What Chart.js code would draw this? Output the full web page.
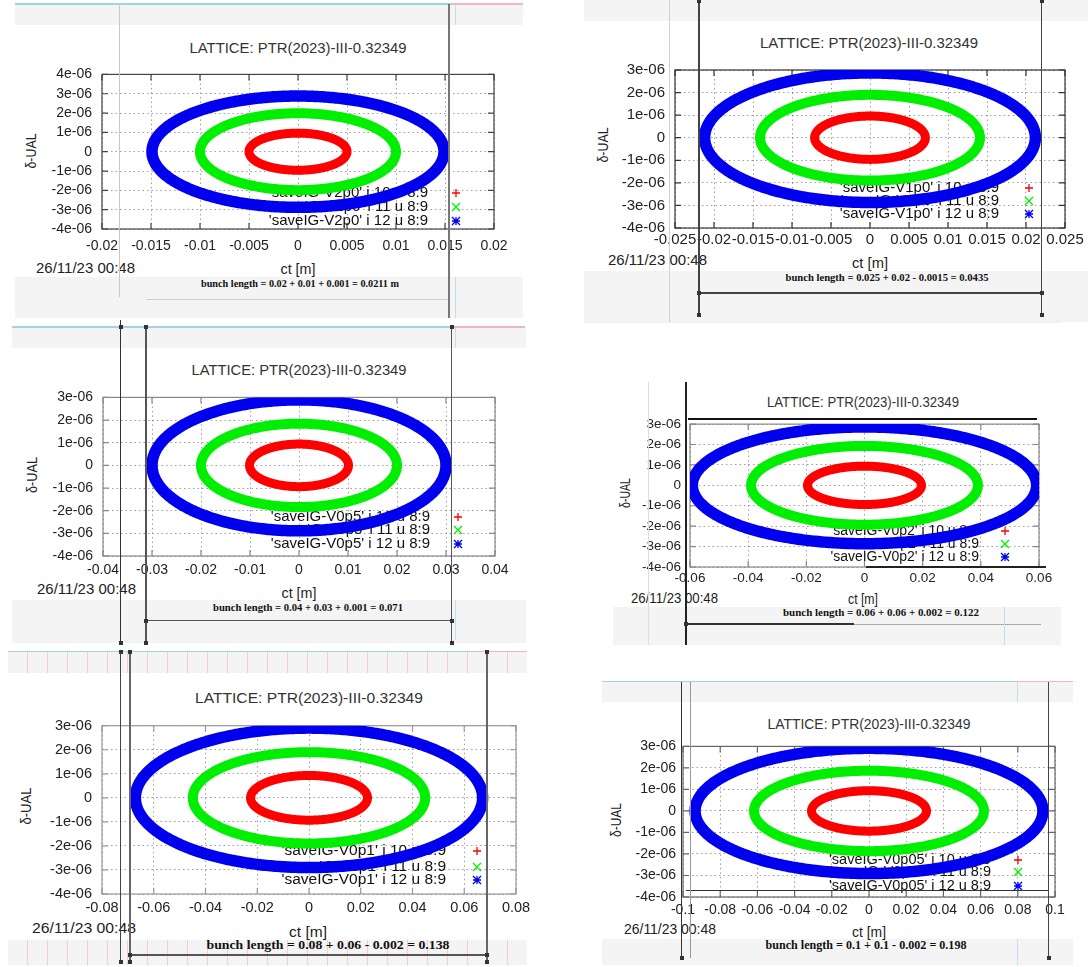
<!DOCTYPE html>
<html>
<head>
<meta charset="utf-8">
<title>LATTICE: PTR(2023)-III-0.32349</title>
<script src="https://cdn.jsdelivr.net/npm/chart.js@4.4.1/dist/chart.umd.min.js"></script>
<style>
  html, body { margin: 0; padding: 0; width: 1088px; height: 967px; overflow: hidden; background: #fff; }
  #stage { position: absolute; left: 0; top: 0; width: 1088px; height: 967px; overflow: hidden; }
  .band, .rule, .dot { position: absolute; }
  .txt { position: absolute; white-space: nowrap; line-height: 1; color: #222;
         font-family: "Liberation Sans", Arial, sans-serif; }
  canvas.plot { position: absolute; z-index: 2; }
  .rule, .dot { z-index: 3; }
</style>
</head>
<body>
<div id="stage"></div>
<script>
// ---- runs (one gnuplot screen per voltage setting) ----
const runNames   = ['V2p0', 'V1p0', 'V0p5', 'V0p2', 'V0p1', 'V0p05'];
const ctLimit    = [0.02, 0.025, 0.04, 0.06, 0.08, 0.1];      // ct axis half range [m]
const ctStep     = [0.005, 0.005, 0.01, 0.02, 0.02, 0.02];    // ct tick spacing
const deltaMin   = [-4e-6, -4e-6, -4e-6, -4e-6, -4e-6, -4e-6];
const deltaMax   = [4e-6, 3e-6, 3e-6, 3e-6, 3e-6, 3e-6];
const deltaStep  = 1e-6;

// semi-axes of the phase-space orbits: index 10 (red), 11 (green), 12 (blue)
const ct10    = [0.0050, 0.0071, 0.0101, 0.0196, 0.0226, 0.0309];
const delta10 = [0.96e-6, 0.96e-6, 0.94e-6, 0.94e-6, 0.93e-6, 0.94e-6];
const ct11    = [0.0100, 0.0141, 0.0200, 0.0390, 0.0449, 0.0618];
const delta11 = [1.99e-6, 1.90e-6, 1.84e-6, 1.93e-6, 1.90e-6, 1.87e-6];
const ct12    = [0.0149, 0.0212, 0.0300, 0.0592, 0.0671, 0.0935];
const delta12 = [2.88e-6, 2.87e-6, 2.89e-6, 2.86e-6, 2.90e-6, 2.91e-6];

const bunchNotes = [
  'bunch length = 0.02 + 0.01 + 0.001 = 0.0211 m',
  'bunch length = 0.025 + 0.02 - 0.0015 = 0.0435',
  'bunch length = 0.04 + 0.03 + 0.001 = 0.071',
  'bunch length = 0.06 + 0.06 + 0.002 = 0.122',
  'bunch length = 0.08 + 0.06 - 0.002 = 0.138',
  'bunch length = 0.1 + 0.1 - 0.002 = 0.198'
];
const plotTitle = 'LATTICE: PTR(2023)-III-0.32349';
const stampText = '26/11/23 00:48';
const xTitle = 'ct [m]';
const yTitle = 'δ-UAL';

// ---- screen layout (plot box = l, t, r, b in page pixels) ----
const frames = [
  { box: [102, 68, 494, 229], tick: 14, padX: 9, padY: 10, frame: '#444',
    key: { end: 66, sym: 38, rows: [36, 22, 8], size: 15 },
    title: [298, 47, 217], stamp: [36, 267, 99], xlab: [298, 268, 35], ylab: [30, 151, 35], bunch: [300, 284, 198, 10.5] },
  { box: [675, 63, 1065, 228], tick: 15, padX: 3, padY: 10, frame: '#333',
    key: { end: 66, sym: 36, rows: [40, 27, 14], size: 15 },
    title: [869, 42, 218], stamp: [608, 259, 99], xlab: [870, 262, 36], ylab: [602, 145, 35], bunch: [887, 278, 203, 10.5] },
  { box: [103, 391, 495, 556], tick: 14, padX: 5.5, padY: 10, frame: '#888',
    key: { end: 65, sym: 37, rows: [39, 26, 12], size: 15 },
    title: [299, 369, 215], stamp: [37, 588, 99], xlab: [299, 592, 35], ylab: [31, 475, 36], bunch: [308, 608, 190, 10.5] },
  { box: [690, 419, 1039, 567], tick: 13.5, padX: 3, padY: 9, frame: '#888',
    key: { end: 60, sym: 34, rows: [36, 23, 10], size: 14 },
    title: [863, 401, 192], stamp: [631, 597, 87], xlab: [863, 598, 30], ylab: [624, 493, 30], bunch: [881, 613, 196, 10.5] },
  { box: [102, 719, 516, 894], tick: 14.5, padX: 5.5, padY: 10, frame: '#999',
    key: { end: 70, sym: 39, rows: [43, 27, 14], size: 15.5 },
    title: [309, 697, 228], stamp: [32, 927, 104], xlab: [308, 931, 38], ylab: [25, 806, 37], bunch: [328, 945, 243, 12.5] },
  { box: [683, 743, 1055, 897], tick: 14, padX: 5, padY: 7, frame: '#666',
    key: { end: 64, sym: 37, rows: [37, 25, 11], size: 14.5 },
    title: [869, 723, 203], stamp: [624, 928, 92], xlab: [869, 931, 34], ylab: [615, 820, 34], bunch: [866, 946, 201, 11.5] }
];

// screen-capture chrome around each plot: grey bands and guide rules
const pinkGrid = 'repeating-linear-gradient(to right, #f4f4f4 0px, #f4f4f4 19px, #f5cdd1 19px, #f5cdd1 20px)';
const bands = [
  [15, 5, 508, 20, '#f4f4f4'], [15, 277, 508, 41, '#f4f4f4'],
  [584, 0, 504, 21, '#f4f4f4'], [584, 271, 504, 51, '#f4f4f4'],
  [12, 328, 514, 20, '#f4f4f4'], [12, 600, 514, 43, '#f4f4f4'],
  [584, 320, 477, 3, '#f2f2f2'], [613, 607, 448, 38, '#f4f4f4'],
  [8, 652, 519, 21, pinkGrid], [8, 940, 519, 25, pinkGrid],
  [602, 682, 471, 20, '#f4f4f4'], [602, 939, 471, 26, '#f4f4f4']
];
// horizontal rules: x1, y, x2, colour, width ; vertical rules: x, y1, y2, colour, width
const hRules = [
  [15, 4, 451, '#9fd3e6', 1.5], [451, 4, 523, '#f4b6bd', 1.5],
  [146, 299, 449, '#cfcfcf', 1],
  [699, 293, 1041.5, '#444', 1.5],
  [12, 327, 451, '#9fd3e6', 1.5], [451, 327, 525, '#f4b6bd', 1.5],
  [146, 620.5, 451.5, '#555', 1.2],
  [688, 419, 1037, '#111', 2], [686, 624, 854, '#333', 2], [854, 624, 1041, '#aaa', 1],
  [866, 567, 1046, '#222', 2],
  [8, 651.5, 475, '#9fd3e6', 1.5], [475, 651.5, 527, '#f4b6bd', 1.5],
  [130, 955, 487, '#555', 1.2],
  [602, 681.5, 1017, '#9fd3e6', 1.5], [1017, 681.5, 1073, '#f4b6bd', 1.5],
  [686, 890.5, 1048, '#333', 1.5]
];
const vRules = [
  [119, 4, 297, '#c8c8c8', 1], [449, 4, 318, '#777', 1.5],
  [455.5, 5, 25, '#bfe0ec', 1], [455.5, 277, 318, '#bfe0ec', 1],
  [669.5, 0, 322, '#d0d0d0', 1], [699, 0, 315, '#444', 1.5], [1041.5, 0, 315, '#444', 1.5],
  [120.5, 320, 643, '#333', 1.5], [146, 327, 643, '#555', 1.2], [451.5, 327, 643, '#555', 1.2],
  [455.5, 328, 348, '#bfe0ec', 1], [455.5, 600, 640, '#bfe0ec', 1],
  [648.5, 382, 645, '#dcdcdc', 1], [686, 382, 645, '#222', 1.5], [1004, 607, 645, '#bfe0ec', 1],
  [120.5, 650, 962, '#444', 1.5], [130, 650, 962, '#666', 1.2], [487, 650, 962, '#666', 1.2],
  [681.5, 682, 958, '#333', 1.5], [690.5, 682, 958, '#999', 1], [1048.5, 682, 958, '#444', 1.5],
  [1017, 682, 702, '#bfe0ec', 1], [1017, 939, 965, '#bfe0ec', 1]
];
const dots = [
  [699, 1], [1041.5, 1], [699, 293], [1041.5, 293], [699, 315], [1041.5, 315],
  [120.5, 327], [146, 327], [451.5, 327], [146, 620.5], [451.5, 620.5], [120.5, 643], [146, 643], [451.5, 643],
  [120.5, 652], [130, 652], [487, 652], [130, 955], [487, 955], [120.5, 962], [130, 962], [487, 962],
  [686, 624], [681.5, 958], [1048.5, 958]
];

const stage = document.getElementById('stage');

function addDiv(cls, css) {
  const d = document.createElement('div');
  d.className = cls;
  Object.assign(d.style, css);
  stage.appendChild(d);
  return d;
}
bands.forEach(([x, y, w, h, c]) => addDiv('band', { left: x + 'px', top: y + 'px', width: w + 'px', height: h + 'px', background: c }));
hRules.forEach(([x1, y, x2, c, w]) => addDiv('rule', { left: x1 + 'px', top: (y - w / 2) + 'px', width: (x2 - x1) + 'px', height: w + 'px', background: c }));
vRules.forEach(([x, y1, y2, c, w]) => addDiv('rule', { left: (x - w / 2) + 'px', top: y1 + 'px', width: w + 'px', height: (y2 - y1) + 'px', background: c }));
dots.forEach(([x, y]) => addDiv('dot', { left: (x - 2) + 'px', top: (y - 2) + 'px', width: '4px', height: '4px', background: '#333' }));

// text placed by centre (or left edge) and squeezed to the measured width
function addText(str, x, y, width, opt) {
  const el = document.createElement('div');
  el.className = 'txt';
  el.textContent = str;
  el.style.fontSize = (opt.size || 15) + 'px';
  if (opt.family) el.style.fontFamily = opt.family;
  if (opt.color) el.style.color = opt.color;
  if (opt.weight) el.style.fontWeight = opt.weight;
  el.style.zIndex = opt.z || 1;
  stage.appendChild(el);
  const w = el.getBoundingClientRect().width;
  const k = width ? width / w : 1;
  el.style.left = x + 'px';
  el.style.top = y + 'px';
  el.style.transformOrigin = '0 0';
  if (opt.rotate) {
    el.style.transform = `rotate(-90deg) scaleX(${k}) translate(-50%, -50%)`;
  } else if (opt.left) {
    el.style.transform = `scaleX(${k}) translate(0, -50%)`;
  } else {
    el.style.transform = `scaleX(${k}) translate(-50%, -50%)`;
  }
  return el;
}

// closed orbit through the measured semi-axes
function orbit(a, b) {
  const pts = [];
  const n = 240;
  for (let k = 0; k <= n; k++) {
    const th = 2 * Math.PI * k / n;
    pts.push({ x: a * Math.cos(th), y: b * Math.sin(th) });
  }
  return pts;
}

function keyMark(ctx, kind, color, x, y) {
  const s = 4;
  ctx.save();
  ctx.strokeStyle = color;
  ctx.lineWidth = 1.3;
  ctx.beginPath();
  if (kind !== 'crossRot') { ctx.moveTo(x - s, y); ctx.lineTo(x + s, y); ctx.moveTo(x, y - s); ctx.lineTo(x, y + s); }
  if (kind !== 'cross') { ctx.moveTo(x - s, y - s); ctx.lineTo(x + s, y + s); ctx.moveTo(x - s, y + s); ctx.lineTo(x + s, y - s); }
  ctx.stroke();
  ctx.restore();
}

// gnuplot-style border, inward tick marks and key (drawn beneath the orbits)
function gnuplotFrame(f) {
  return {
    id: 'gnuplotFrame',
    beforeDatasetsDraw(chart) {
      const { ctx, chartArea: a, scales } = chart;
      ctx.save();
      ctx.strokeStyle = f.frame;
      ctx.lineWidth = 1.2;
      ctx.strokeRect(a.left, a.top, a.right - a.left, a.bottom - a.top);
      const len = 6;
      ctx.beginPath();
      scales.x.ticks.forEach(t => {
        const px = scales.x.getPixelForValue(t.value);
        ctx.moveTo(px, a.bottom); ctx.lineTo(px, a.bottom - len);
        ctx.moveTo(px, a.top); ctx.lineTo(px, a.top + len);
      });
      scales.y.ticks.forEach(t => {
        const py = scales.y.getPixelForValue(t.value);
        ctx.moveTo(a.left, py); ctx.lineTo(a.left + len, py);
        ctx.moveTo(a.right, py); ctx.lineTo(a.right - len, py);
      });
      ctx.stroke();
      ctx.restore();

      const k = f.key;
      ctx.save();
      ctx.font = `${k.size}px "Liberation Sans", Arial, sans-serif`;
      ctx.textAlign = 'right';
      ctx.textBaseline = 'middle';
      ctx.fillStyle = '#111';
      chart.data.datasets.forEach((ds, i) => {
        const y = a.bottom - k.rows[i];
        ctx.fillText(ds.label, a.right - k.end, y);
        keyMark(ctx, ds.pointStyle, ds.borderColor, a.right - k.sym, y);
      });
      ctx.restore();
    }
  };
}

const YW = 90, XH = 40, PT = 12, PR = 32;
const orbitColors = ['#ff0000', '#00ee00', '#0000ee'];
const orbitWidths = [9, 10, 11.5];
const orbitMarks = ['cross', 'crossRot', 'star'];
const fmtCt = v => { const s = parseFloat(v.toFixed(4)); return s === 0 ? '0' : String(s); };
const fmtDelta = v => { const n = Math.round(v / deltaStep); return n === 0 ? '0' : n + 'e-06'; };

frames.forEach((f, p) => {
  const [l, t, r, b] = f.box;
  const cv = document.createElement('canvas');
  cv.className = 'plot';
  cv.width = r - l + YW + PR;
  cv.height = b - t + PT + XH;
  cv.style.left = (l - YW) + 'px';
  cv.style.top = (t - PT) + 'px';
  stage.appendChild(cv);

  const semiCt = [ct10[p], ct11[p], ct12[p]];
  const semiDelta = [delta10[p], delta11[p], delta12[p]];
  const datasets = semiCt.map((a, i) => ({
    label: `'saveIG-${runNames[p]}' i ${10 + i} u 8:9`,
    data: orbit(a, semiDelta[i]),
    showLine: true,
    borderColor: orbitColors[i],
    backgroundColor: orbitColors[i],
    borderWidth: orbitWidths[i],
    borderJoinStyle: 'round',
    borderCapStyle: 'round',
    pointRadius: 0,
    pointStyle: orbitMarks[i],
    tension: 0.1,
    fill: false
  }));

  const tickFont = { family: '"Liberation Sans", Arial, sans-serif', size: f.tick };
  const gridLines = { color: 'rgba(80,80,80,0.55)', lineWidth: 1, drawTicks: false };
  const dotted = { display: false, dash: [1.5, 3] };

  new Chart(cv, {
    type: 'scatter',
    data: { datasets },
    options: {
      responsive: false,
      animation: false,
      devicePixelRatio: 1,
      layout: { padding: { top: PT, right: PR, left: 0, bottom: 0 } },
      plugins: { legend: { display: false }, tooltip: { enabled: false } },
      scales: {
        x: {
          type: 'linear', min: -ctLimit[p], max: ctLimit[p],
          afterFit: s => { s.height = XH; },
          ticks: { stepSize: ctStep[p], autoSkip: false, maxRotation: 0, minRotation: 0,
                   padding: f.padX, font: tickFont, color: '#222', callback: fmtCt },
          grid: gridLines, border: dotted
        },
        y: {
          type: 'linear', min: deltaMin[p], max: deltaMax[p],
          afterFit: s => { s.width = YW; },
          ticks: { stepSize: deltaStep, autoSkip: false, padding: f.padY,
                   font: tickFont, color: '#222', callback: fmtDelta },
          grid: gridLines, border: dotted
        }
      }
    },
    plugins: [gnuplotFrame(f)]
  });

  addText(plotTitle, f.title[0], f.title[1], f.title[2], { size: 15, color: '#333', z: 1 });
  addText(stampText, f.stamp[0], f.stamp[1], f.stamp[2], { size: 15, left: true, z: 1 });
  addText(xTitle, f.xlab[0], f.xlab[1], f.xlab[2], { size: 15, z: 1 });
  addText(yTitle, f.ylab[0], f.ylab[1], f.ylab[2], { size: 15, rotate: true, z: 1 });
  addText(bunchNotes[p], f.bunch[0], f.bunch[1], f.bunch[2],
          { size: f.bunch[3], family: '"Liberation Serif", "Times New Roman", serif', color: '#111', weight: 'bold', z: 1 });
});
</script>
</body>
</html>
